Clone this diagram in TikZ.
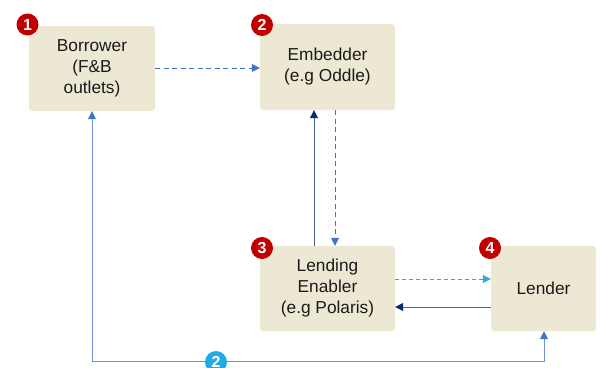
\documentclass[tikz,border=0pt]{standalone}
\usepackage{fontspec}
\setmainfont{Liberation Sans}
\usetikzlibrary{arrows.meta}
\definecolor{boxfill}{HTML}{EDE8D4}
\definecolor{txt}{HTML}{1A1A1A}
\definecolor{badgered}{HTML}{C00000}
\definecolor{badgecyan}{HTML}{1EABE6}
\definecolor{flowblue}{HTML}{4472C4}
\definecolor{lineblue}{HTML}{6F8FD6}
\definecolor{navy}{HTML}{0B2A6B}
\definecolor{navyline}{HTML}{4E6499}
\definecolor{skyblue}{HTML}{29ABE2}
\tikzset{
  party/.style={fill=boxfill, draw=none, rounded corners=3pt, align=center,
    text=txt, font=\fontsize{17.3}{21}\selectfont, inner sep=0pt},
  badge/.style={circle, fill=badgered, text=white, inner sep=0pt,
    minimum size=22pt, font=\fontsize{16}{16}\selectfont\bfseries},
  cyanbadge/.style={badge, fill=badgecyan},
  dashflow/.style={draw=flowblue, line width=0.8pt, dash pattern=on 5pt off 3.5pt,
    -{Triangle[length=8pt,width=8pt,color=flowblue,fill=flowblue]}},
  skyflow/.style={draw=skyblue, line width=0.8pt, dash pattern=on 4pt off 3pt,
    -{Triangle[length=8pt,width=8pt,color=skyblue,fill=skyblue]}},
  navyflow/.style={draw=navyline, line width=1pt,
    -{Triangle[length=8pt,width=8pt,color=navy,fill=navy]}},
  loopflow/.style={draw=lineblue, line width=0.8pt,
    {Triangle[length=8pt,width=8pt,color=flowblue,fill=flowblue]}-{Triangle[length=8pt,width=8pt,color=flowblue,fill=flowblue]}},
}
\begin{document}
\begin{tikzpicture}[x=1pt,y=-1pt]
\useasboundingbox (0,0) rectangle (600,367);

% parties
\node[party, minimum width=126pt, minimum height=85pt] (borrower) at (92,68.5)
  {Borrower\\(F\&B\\outlets)};
\node[party, minimum width=135pt, minimum height=86pt] (embedder) at (327.5,67)
  {Embedder\\(e.g Oddle)};
\node[party, minimum width=135pt, minimum height=85pt] (enabler) at (327.5,288.5)
  {Lending\\Enabler\\(e.g Polaris)};
\node[party, minimum width=105pt, minimum height=85pt] (lender) at (543.5,288.5)
  {Lender};

% flows between parties
\draw[dashflow] (borrower.east |- 0,68) -- (embedder.west |- 0,68);
\draw[navyflow] (enabler.north -| 314,0) -- (embedder.south -| 314,0);
\draw[dashflow] (embedder.south -| 335,0) -- (enabler.north -| 335,0);
\draw[skyflow] (enabler.east |- 0,279) -- (lender.west |- 0,279);
\draw[navyflow] (lender.west |- 0,307) -- (enabler.east |- 0,307);

\coordinate (loopL) at (92,361.5);
\coordinate (loopR) at (544,361.5);
\draw[loopflow] (borrower.south) -- (loopL) -- (loopR) -- (lender.south -| loopR);

% step badges
\node[badge] (b1) at (27.5,24.5) {1};
\node[badge] (b2) at (262,25) {2};
\node[badge] (b3) at (262,248) {3};
\node[badge] (b4) at (490,248) {4};
\node[cyanbadge] (b5) at (216,362) {2};
\end{tikzpicture}
\end{document}
